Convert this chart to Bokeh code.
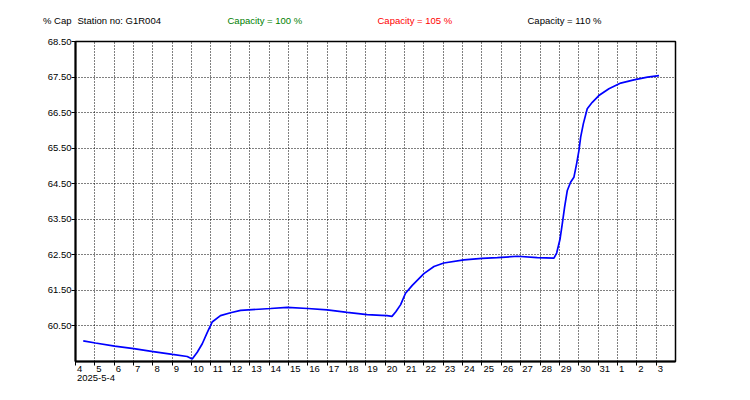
from bokeh.plotting import figure
from bokeh.models import LinearAxis, FixedTicker
from bokeh.layouts import column
from bokeh.core.properties import value
from bokeh.embed import file_html
from bokeh.resources import INLINE

# ---- data (days since 2025-5-4 00:00, % capacity) ----
days = [0.40, 1.03, 2.02, 3.01, 4.01, 5.01, 5.77, 6.03, 6.29, 6.55, 6.81, 7.06,
        7.49, 8.01, 8.53, 9.47, 10.08, 10.94, 12.0, 13.0, 14.04, 15.07, 15.8,
        16.1, 16.35, 16.55, 16.8, 17.05, 17.4, 18.0, 18.52, 19.03, 20.07, 21.0,
        21.79, 22.83, 23.86, 24.72, 24.86, 25.03, 25.15, 25.27, 25.41, 25.58,
        25.75, 25.89, 26.01, 26.1, 26.24, 26.44, 26.7, 27.04, 27.56, 28.17,
        28.85, 29.55, 30.15]
cap = [60.08, 60.02, 59.93, 59.86, 59.78, 59.70, 59.64, 59.57, 59.76, 60.00,
       60.32, 60.61, 60.79, 60.87, 60.94, 60.97, 60.99, 61.02, 60.99, 60.95,
       60.88, 60.82, 60.80, 60.79, 60.77, 60.90, 61.10, 61.42, 61.64, 61.97,
       62.17, 62.27, 62.36, 62.40, 62.42, 62.46, 62.42, 62.41, 62.55, 62.93,
       63.37, 63.84, 64.31, 64.54, 64.68, 65.06, 65.43, 65.81, 66.19, 66.61,
       66.79, 66.98, 67.17, 67.33, 67.42, 67.50, 67.54]

day_labels = ["4", "5", "6", "7", "8", "9", "10", "11", "12", "13", "14", "15",
              "16", "17", "18", "19", "20", "21", "22", "23", "24", "25", "26",
              "27", "28", "29", "30", "31", "1", "2", "3"]
y_ticks = [60.5, 61.5, 62.5, 63.5, 64.5, 65.5, 66.5, 67.5, 68.5]
start_label = "2025-5-4"
y_title = "% Cap"
header_texts = ["Station no: G1R004", "Capacity = 100 %", "Capacity = 105 %",
                "Capacity = 110 %"]
header_colors = ["#000000", "#008000", "#ff0000", "#000000"]

FONT = "Liberation Sans"
FS_PX = 9.5
FS = f"{FS_PX}px"
W = 750
HEAD_H = 29
BORDER_L = 75
BORDER_R = 75
FRAME_W = W - BORDER_L - BORDER_R
N_DAYS = 31
PX_PER_DAY = FRAME_W / N_DAYS


def text_width(s):
    em = {"-": 0.333, ".": 0.278}
    return sum(em.get(ch, 0.556) for ch in s) * FS_PX


def left_aligned_pos(base, lab, gap=1.5):
    # axis labels are centred on their tick: shift so text starts just right of base
    return base + (gap + text_width(lab) / 2) / PX_PER_DAY


# ---- header strip (texts above the plot frame) ----
head = figure(width=W, height=HEAD_H, x_range=(BORDER_L, W - BORDER_R),
              y_range=(0, HEAD_H), output_backend="svg", toolbar_location=None,
              x_axis_location=None, y_axis_location="left",
              min_border_left=BORDER_L, min_border_right=BORDER_R,
              min_border_top=0, min_border_bottom=0)
head.outline_line_color = None
head.grid.visible = False
head.background_fill_color = "white"
head.border_fill_color = "white"
head_y = HEAD_H - 20
head.text(x=[77, 227, 377, 527], y=[head_y] * 4, text=header_texts,
          text_color=header_colors, text_font=value(FONT),
          text_font_size=value(FS), text_baseline="middle", text_align="left")
hy = head.yaxis[0]
hy.ticker = FixedTicker(ticks=[head_y])
hy.major_label_overrides = {head_y: y_title}
hy.axis_line_color = None
hy.major_tick_line_color = None
hy.minor_tick_line_color = None
hy.major_tick_out = 0
hy.major_tick_in = 0
hy.major_label_standoff = 4
hy.major_label_text_font = FONT
hy.major_label_text_font_size = FS
hy.major_label_text_color = "black"

# ---- main chart ----
p = figure(width=W, height=400 - HEAD_H, x_range=(0, N_DAYS), y_range=(59.5, 68.5),
           output_backend="svg", toolbar_location=None,
           min_border_left=BORDER_L, min_border_right=BORDER_R, min_border_top=12,
           min_border_bottom=39)
p.background_fill_color = "white"
p.border_fill_color = "white"
p.outline_line_color = "black"
p.outline_line_width = 1.5

p.line(days, cap, line_color="#0000ff", line_width=1.7)

x_ticks = list(range(len(day_labels)))
# main bottom axis: tick marks only (its labels are not drawn)
xa = p.xaxis[0]
xa.ticker = x_ticks
xa.major_label_text_color = None
xa.major_label_text_font_size = "1px"
xa.major_label_standoff = 0
p.yaxis.ticker = y_ticks
p.yaxis.major_label_overrides = {v: f"{v:.2f}" for v in y_ticks}
p.yaxis.major_label_text_baseline = "bottom"
p.yaxis.major_label_text_font = FONT
p.yaxis.major_label_text_font_size = FS
p.yaxis.major_label_text_color = "black"
p.yaxis.major_label_standoff = 0

for ax in (xa, p.yaxis[0]):
    ax.axis_line_color = "black"
    ax.axis_line_width = 2
    ax.major_tick_line_color = "black"
    ax.major_tick_line_width = 1
    ax.major_tick_in = 0
    ax.major_tick_out = 4
    ax.minor_tick_line_color = None


def label_axis(positions, labels, standoff):
    ax = LinearAxis(ticker=FixedTicker(ticks=positions),
                    major_label_overrides=dict(zip(positions, labels)))
    ax.axis_line_color = None
    ax.major_tick_line_color = None
    ax.minor_tick_line_color = None
    ax.major_tick_out = 0
    ax.major_tick_in = 0
    ax.major_label_text_font = FONT
    ax.major_label_text_font_size = FS
    ax.major_label_text_color = "black"
    ax.major_label_standoff = standoff
    p.add_layout(ax, "below")
    return ax


day_pos = [left_aligned_pos(i, lab) for i, lab in zip(x_ticks, day_labels)]
label_axis(day_pos, day_labels, 0)
label_axis([left_aligned_pos(0, start_label)], [start_label], 0)

p.xgrid.ticker = x_ticks
p.ygrid.ticker = y_ticks
for g in (p.xgrid[0], p.ygrid[0]):
    g.grid_line_color = "black"
    g.grid_line_dash = "1 2"
    g.grid_line_width = 1
    g.grid_line_alpha = 1.0

layout = column(head, p, spacing=0)
open("out.html", "w").write(file_html(layout, INLINE))
